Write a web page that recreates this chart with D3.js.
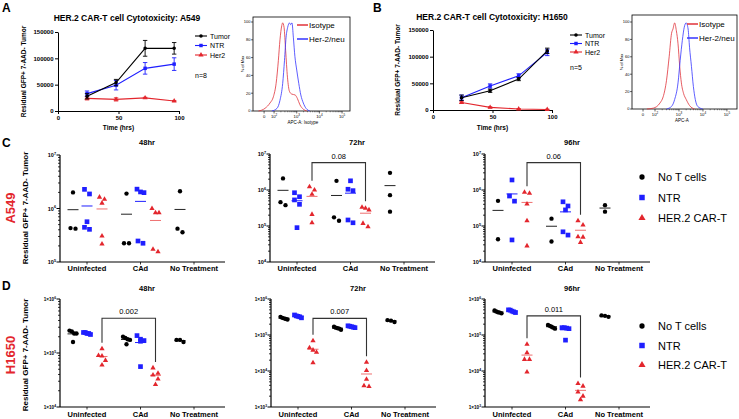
<!DOCTYPE html>
<html><head><meta charset="utf-8">
<script src="https://cdn.jsdelivr.net/npm/d3@7"></script>
<style>body{margin:0;background:#fff}svg{display:block}text{font-family:"Liberation Sans",Arial,sans-serif}</style>
</head><body><svg id="c" width="739" height="419"></svg>
<script>
// ---------------- DATA ----------------
const timeHours=[24,48,72,96];
const lineSeriesNames=["Tumor","NTR","Her2"];
const a549Tumor=[28000,54000,119000,119000];
const a549TumorErr=[5000,6000,15000,11000];
const a549NTR=[33000,49000,81000,89000];
const a549NTRErr=[5000,9000,11000,12000];
const a549Her2=[24000,22000,25000,19000];
const a549Her2Err=[3000,3000,1000,1000];
const h1650Tumor=[23000,36000,58000,111000];
const h1650TumorErr=[5000,3000,3000,5000];
const h1650NTR=[23000,45000,64000,108000];
const h1650NTRErr=[5000,4000,4000,6000];
const h1650Her2=[14000,5000,2000,1000];
const h1650Her2Err=[1500,1000,500,500];
const lineTicksY=[0,50000,100000,150000];
const lineTicksX=[0,50,100];

// flow histograms: t = display position in log10 units, p = % of max
const histA_isoT=[1.31,1.60,1.82,1.97,2.09,2.19,2.26,2.34,2.38,2.44,2.51,2.59,2.68,2.78,2.93,3.03,3.14,3.29,3.44];
const histA_isoP=[0,3,9,16,31,57,80,96,99,94,68,38,22,19,18,14,7,2,0];
const histA_herT=[1.90,2.13,2.26,2.38,2.46,2.53,2.60,2.68,2.73,2.79,2.85,2.92,3.00,3.09,3.18,3.29,3.41,3.58];
const histA_herP=[0,3,12,31,57,83,94,99,97,99,83,61,46,31,18,9,3,0];
const histB_isoT=[1.66,1.93,2.21,2.34,2.48,2.59,2.69,2.75,2.82,2.89,2.96,3.03,3.10,3.19,3.30,3.44,3.65];
const histB_isoP=[0,1,7,14,33,60,87,92,99,90,75,49,30,18,11,4,0];
const histB_herT=[2.48,2.69,2.82,2.96,3.05,3.14,3.22,3.30,3.38,3.44,3.52,3.60,3.68,3.78,3.99];
const histB_herP=[0,3,11,30,56,79,94,99,92,71,49,26,11,3,0];
const histTicksA=[1.56,2,3,4,5];
const histTicksB=[1.5,2,3,4,5];
const histTickExp=["0","2","3","4","5"];
const histTicksY=[0,20,40,60,80,100];

// dot plots: each array = [Uninfected, CAd, No Treatment]
const categories=["Uninfected","CAd","No Treatment"];
const groupNames=["No T cells","NTR","HER.2 CAR-T"];
const c48NoT=[[2.0e6,4.2e5,4.3e5],[1.9e6,2.24e5,2.24e5],[2.1e6,3.6e5,4.2e5]];
const c48NTR=[[1.87e6,2.28e6,5.66e5,4.08e5,4.45e5],[2.04e6,1.98e6,2.3e6,2.24e5,2.47e5]];
const c48CAR=[[1.26e6,1.63e6,1.49e6,3.06e5,2.17e5],[8.3e5,8.3e5,1.0e6,1.56e5,1.73e5]];
const c72NoT=[[2.1e6,3.8e5,4.6e5],[1.8e6,1.4e5,1.74e5],[3.0e6,7.2e5,2.5e5]];
const c72NTR=[[6.5e5,5.3e5,8.4e5,4.0e5,9e4],[1.8e6,1.05e6,9.6e5,1.23e5,1.47e5]];
const c72CAR=[[7.6e5,1.23e6,1.0e6,2.1e5,1.23e5],[3.1e5,3.3e5,2.8e5,9.5e4,1.18e5]];
const c96NoT=[[5.0e5,4.3e4],[1.6e5,3.7e4],[3.8e5,2.5e5]];
const c96NTR=[[1.9e6,6.8e5,4.9e5,4.1e4],[4.7e5,3.6e5,2.8e5,5.6e4,6.9e4]];
const c96CAR=[[8.7e5,8.1e5,4.1e5,1.4e5,2.8e4],[1.4e5,1.07e5,5e4,4.9e4,3.5e4]];
const d48NoT=[[2.6e5,2.3e5,2.5e5,2.3e5,1.6e5],[1.45e5,1.8e5,2.0e5,1.9e5,1.75e5],[1.75e5,1.6e5,1.75e5]];
const d48NTR=[[2.4e5,2.3e5,2.3e5,2.4e5,2.2e5],[2.1e5,1.8e5,1.65e5,1.7e5,5.6e4]];
const d48CAR=[[1.2e5,9.0e4,8.8e4,7.3e4,6.0e4],[5.3e4,4.2e4,3.9e4,3.3e4,2.6e4]];
const d72NoT=[[3.2e5,2.9e5,2.7e5,3.0e5,2.8e5],[1.7e5,1.5e5,1.4e5,1.6e5,1.55e5],[2.6e5,2.3e5,2.5e5]];
const d72NTR=[[3.6e5,3.3e5,3.0e5,3.4e5,3.2e5],[1.8e5,1.65e5,1.6e5,1.75e5,1.7e5]];
const d72CAR=[[6.9e4,4.4e4,3.8e4,3.3e4,1.7e4],[1.75e4,1.03e4,5.9e3,3.7e3,3.9e3]];
const d96NoT=[[4.8e5,4.3e5,4.0e5,4.5e5,4.2e5],[1.9e5,1.7e5,1.6e5,1.8e5,1.5e5],[3.5e5,3.2e5,3.4e5]];
const d96NTR=[[5.0e5,4.6e5,4.4e5,4.9e5,4.2e5],[1.6e5,1.55e5,1.5e5,1.6e5,7.2e4]];
const d96CAR=[[5.5e4,3.2e4,2.1e4,2.1e4,9.4e3],[4.5e3,3.8e3,2.6e3,1.6e3,2.0e3]];
const pValues=["0.08","0.06","0.002","0.007","0.011"];
const pBracketLevels=[5.75e6,5.75e6,4.4e5,2.9e5,3.4e5];

// ---------------- DRAW ----------------
const RED="#e3262d",BLUE="#1f1fff",BLACK="#000",MEANRED="#ef6f6f";
const svg=d3.select("#c");
const FONT='"Liberation Sans",Arial,sans-serif';
function sym(type,size){return d3.symbol().type(type).size(size)();}
const SHAPES={circle:d3.symbolCircle,square:d3.symbolSquare,triangle:d3.symbolTriangle};

function styleAxis(a,fs){
  a.select(".domain").attr("stroke","#000").attr("stroke-width",1);
  a.selectAll(".tick line").attr("stroke","#000");
  a.selectAll(".tick text").attr("font-size",fs).attr("font-weight","bold").attr("font-family",FONT).attr("fill","#000");
}

function lineChart(o){
  const g=svg.append("g");
  const x=d3.scaleLinear().domain([0,100]).range([o.left,o.right]);
  const y=d3.scaleLinear().domain([0,150000]).range([o.bottom,o.top]);
  const ay=g.append("g").attr("transform",`translate(${o.left},0)`)
    .call(d3.axisLeft(y).tickValues(lineTicksY).tickSize(3).tickPadding(1.5).tickFormat(d3.format("d")).tickSizeOuter(0));
  styleAxis(ay,6);
  const ax=g.append("g").attr("transform",`translate(0,${o.bottom})`)
    .call(d3.axisBottom(x).tickValues(lineTicksX).tickSize(3).tickPadding(1.5).tickSizeOuter(0));
  styleAxis(ax,6);
  const line=d3.line().x(d=>x(d.t)).y(d=>y(d.v));
  o.series.slice().reverse().forEach(s=>{
    const pts=timeHours.map((t,i)=>({t,v:s.vals[i],e:s.errs[i]}));
    g.append("path").attr("d",line(pts)).attr("fill","none").attr("stroke",s.color).attr("stroke-width",1.1);
    pts.forEach(p=>{
      const cx=x(p.t),y1=y(p.v+p.e),y2=y(p.v-p.e);
      g.append("path").attr("d",`M${cx},${y1}V${y2}M${cx-2.2},${y1}H${cx+2.2}M${cx-2.2},${y2}H${cx+2.2}`)
        .attr("stroke",s.color).attr("stroke-width",0.9).attr("fill","none");
      g.append("path").attr("d",sym(SHAPES[s.shape],s.shape==="circle"?10:s.shape==="square"?12:11))
        .attr("transform",`translate(${cx},${y(p.v)})`).attr("fill",s.color);
    });
  });
  g.append("text").attr("x",o.titleX).attr("y",o.titleY).attr("text-anchor","middle").attr("font-size",8.5).attr("font-weight","bold").text(o.title);
  g.append("text").attr("transform",`translate(${o.ylabX},${(o.top+o.bottom)/2}) rotate(-90)`).attr("text-anchor","middle").attr("font-size",6.5).attr("font-weight","bold").text("Residual GFP+ 7-AAD- Tumor");
  g.append("text").attr("x",(o.left+o.right)/2).attr("y",129.5).attr("text-anchor","middle").attr("font-size",6.5).attr("font-weight","bold").text("Time (hrs)");
  o.series.forEach((s,i)=>{
    const ly=o.legY+i*o.legDy;
    g.append("line").attr("x1",o.legX).attr("x2",o.legX+12).attr("y1",ly).attr("y2",ly).attr("stroke",s.color).attr("stroke-width",1.1);
    g.append("path").attr("d",sym(SHAPES[s.shape],s.shape==="circle"?10:12)).attr("transform",`translate(${o.legX+6},${ly})`).attr("fill",s.color);
    g.append("text").attr("x",o.legX+15).attr("y",ly+2.5).attr("font-size",7).text(lineSeriesNames[i]);
  });
  g.append("text").attr("x",o.legX).attr("y",o.nY).attr("font-size",7).text(o.nText);
  g.append("text").attr("x",o.letterX).attr("y",12).attr("font-size",12).attr("font-weight","bold").text(o.letter);
}

function histogram(o){
  const g=svg.append("g");
  const x=d3.scaleLinear().domain(o.tDomain).range([o.left,o.right]);
  const y=d3.scaleLinear().domain([0,100]).range([o.bottom,o.zeroTop]);
  g.append("rect").attr("x",o.left).attr("y",o.top).attr("width",o.right-o.left).attr("height",o.bottom-o.top).attr("fill","none").attr("stroke","#000").attr("stroke-width",0.8);
  histTicksY.forEach(v=>{
    g.append("line").attr("x1",o.left-2).attr("x2",o.left).attr("y1",y(v)).attr("y2",y(v)).attr("stroke","#000").attr("stroke-width",0.6);
    g.append("text").attr("x",o.left-2.5).attr("y",y(v)+1.4).attr("text-anchor","end").attr("font-size",4).text(v);
  });
  o.ticks.forEach((t,i)=>{
    g.append("line").attr("x1",x(t)).attr("x2",x(t)).attr("y1",o.bottom).attr("y2",o.bottom+2.5).attr("stroke","#000").attr("stroke-width",0.6);
    const tx=g.append("text").attr("x",x(t)).attr("y",o.bottom+7).attr("text-anchor","middle").attr("font-size",4.2);
    if(histTickExp[i]==="0") tx.text("0"); else {tx.append("tspan").text("10");tx.append("tspan").attr("dy",-1.6).attr("font-size",3).text(histTickExp[i]);}
  });
  for(let e=2;e<5;e++) for(let k=2;k<10;k++){const t=e+Math.log10(k);
    g.append("line").attr("x1",x(t)).attr("x2",x(t)).attr("y1",o.bottom).attr("y2",o.bottom+1.3).attr("stroke","#000").attr("stroke-width",0.4);}
  const ln=d3.line().x(d=>x(d[0])).y(d=>y(d[1])).curve(d3.curveMonotoneX);
  g.append("path").attr("d",ln(o.isoT.map((t,i)=>[t,o.isoP[i]]))).attr("fill","none").attr("stroke","#e0323a").attr("stroke-width",0.8);
  g.append("path").attr("d",ln(o.herT.map((t,i)=>[t,o.herP[i]]))).attr("fill","none").attr("stroke","#3535ff").attr("stroke-width",0.8);
  g.append("text").attr("transform",`translate(${o.left-9},${(o.top+o.bottom)/2}) rotate(-90)`).attr("text-anchor","middle").attr("font-size",4).text("% of Max");
  g.append("text").attr("x",o.xlabX).attr("y",o.bottom+13).attr("text-anchor","middle").attr("font-size",4.5).text(o.xlab);
  [["Isotype","#e0323a",o.legY],["Her-2/neu","#3535ff",o.legY+14]].forEach(([n,c,ly])=>{
    g.append("line").attr("x1",o.legX).attr("x2",o.legX+11).attr("y1",ly).attr("y2",ly).attr("stroke",c).attr("stroke-width",1.5);
    g.append("text").attr("x",o.legX+12).attr("y",ly+3).attr("font-size",8).text(n);
  });
}

function supLabel(sel,x,y,pre,e,fs,sfs){
  const t=sel.append("text").attr("x",x).attr("y",y).attr("text-anchor","end").attr("font-size",fs).attr("font-weight","bold");
  t.append("tspan").text(pre);
  t.append("tspan").attr("dy",-fs*0.45).attr("font-size",sfs).text(e);
}

function dotPanel(o){
  const g=svg.append("g");
  const y=d3.scaleLog().domain(o.domain).range([o.bottom,o.top]);
  const x=d3.scalePoint().domain(categories).range([o.ax+27,o.ax+134]);
  g.append("line").attr("x1",o.ax).attr("x2",o.ax).attr("y1",o.top).attr("y2",o.bottom).attr("stroke","#000").attr("stroke-width",1.2);
  g.append("line").attr("x1",o.ax).attr("x2",o.ax+165).attr("y1",o.bottom).attr("y2",o.bottom).attr("stroke","#000").attr("stroke-width",1.2);
  const lo=Math.round(Math.log10(o.domain[0])),hi=Math.round(Math.log10(o.domain[1]));
  for(let e=lo;e<=hi;e++){
    const yy=y(Math.pow(10,e));
    g.append("line").attr("x1",o.ax-3.5).attr("x2",o.ax).attr("y1",yy).attr("y2",yy).attr("stroke","#000").attr("stroke-width",1);
    if(o.times) supLabel(g,o.ax-4,yy+1.8,"1×10",e,4.6,3.3); else supLabel(g,o.ax-4,yy+2,"10",e,5.5,3.8);
    if(e<hi) for(let k=2;k<10;k++){const v=k*Math.pow(10,e);
      g.append("line").attr("x1",o.ax-2).attr("x2",o.ax).attr("y1",y(v)).attr("y2",y(v)).attr("stroke","#000").attr("stroke-width",0.8);}
  }
  categories.forEach(c=>{
    g.append("line").attr("x1",x(c)).attr("x2",x(c)).attr("y1",o.bottom).attr("y2",o.bottom+2.5).attr("stroke","#000").attr("stroke-width",0.8);
    g.append("text").attr("x",x(c)).attr("y",o.labY).attr("text-anchor","middle").attr("font-size",7.5).attr("font-weight","bold").text(c);
  });
  g.append("text").attr("x",o.ax+87).attr("y",o.titleY).attr("text-anchor","middle").attr("font-size",7.5).attr("font-weight","bold").text(o.title);
  const groups=[{d:o.noT,c:BLACK,m:"#222",s:"circle",sz:15,off:-14},{d:o.ntr,c:BLUE,m:BLUE,s:"square",sz:22,off:0},{d:o.car,c:RED,m:MEANRED,s:"triangle",sz:12,off:15}];
  groups.forEach(gr=>{
    gr.d.forEach((vals,ci)=>{
      const cx=x(categories[ci])+gr.off;
      const mean=d3.mean(vals);
      g.append("line").attr("x1",cx-5.5).attr("x2",cx+5.5).attr("y1",y(mean)).attr("y2",y(mean)).attr("stroke",gr.m).attr("stroke-width",1);
      const pts=vals.map(v=>({v,py:y(v)})).sort((a,b)=>a.py-b.py);
      const rows=[];
      pts.forEach(p=>{const r=rows[rows.length-1]; if(r&&p.py-r[0].py<5.5) r.push(p); else rows.push([p]);});
      rows.forEach(r=>{const k=r.length,sp=k>2?Math.min(3.5,7/(k-1)):5; r.forEach((p,i)=>p.px=cx+(i-(k-1)/2)*sp);});
      pts.forEach(p=>g.append("path").attr("d",sym(SHAPES[gr.s],gr.sz)).attr("transform",`translate(${p.px},${p.py})`).attr("fill",gr.c));
    });
  });
  if(o.p){
    const xl=x("Uninfected")+15,xr=x("CAd")+15,yt=y(o.pLevel);
    const yl=y(d3.max(o.car[0]))-6,yr=y(d3.max(o.car[1]))-6;
    g.append("path").attr("d",`M${xl},${yl}V${yt}H${xr}V${yr}`).attr("fill","none").attr("stroke","#333").attr("stroke-width",1.1);
    g.append("text").attr("x",(xl+xr)/2).attr("y",yt-4).attr("text-anchor","middle").attr("font-size",7.5).text(o.p);
  }
}

function rowDecor(o){
  svg.append("text").attr("x",2).attr("y",o.letterY).attr("font-size",12).attr("font-weight","bold").text(o.letter);
  svg.append("text").attr("transform",`translate(15,${o.cy}) rotate(-90)`).attr("text-anchor","middle").attr("font-size",13).attr("font-weight","bold").attr("fill",RED).text(o.cell);
  svg.append("text").attr("transform",`translate(28,${o.cy}) rotate(-90)`).attr("text-anchor","middle").attr("font-size",8).attr("font-weight","bold").text("Residual GFP+ 7-AAD- Tumor");
  const shapes=[["circle",BLACK,22],["square",BLUE,30],["triangle",RED,22]];
  shapes.forEach(([s,c,sz],i)=>{
    const ly=o.legY+i*o.legDy;
    svg.append("path").attr("d",sym(SHAPES[s],sz)).attr("transform",`translate(642,${ly})`).attr("fill",c);
    svg.append("text").attr("x",658).attr("y",ly+4).attr("font-size",11).text(groupNames[i]);
  });
}

// Row 1
lineChart({left:58,right:179,bottom:111,top:32,title:"HER.2 CAR-T cell Cytotoxicity: A549",titleX:127,titleY:21,ylabX:25.5,
  series:[{vals:a549Tumor,errs:a549TumorErr,color:BLACK,shape:"circle"},{vals:a549NTR,errs:a549NTRErr,color:BLUE,shape:"square"},{vals:a549Her2,errs:a549Her2Err,color:RED,shape:"triangle"}],
  legX:195,legY:36,legDy:9.5,nY:78,nText:"n=8",letter:"A",letterX:2});
lineChart({left:433,right:552,bottom:110,top:30,title:"HER.2 CAR-T cell Cytotoxicity: H1650",titleX:492,titleY:19.5,ylabX:399.5,
  series:[{vals:h1650Tumor,errs:h1650TumorErr,color:BLACK,shape:"circle"},{vals:h1650NTR,errs:h1650NTRErr,color:BLUE,shape:"square"},{vals:h1650Her2,errs:h1650Her2Err,color:RED,shape:"triangle"}],
  legX:570,legY:35,legDy:8.5,nY:69.5,nText:"n=5",letter:"B",letterX:373});
histogram({left:253,right:350,top:17,bottom:111,zeroTop:22,tDomain:[1.07,5.35],ticks:histTicksA,isoT:histA_isoT,isoP:histA_isoP,herT:histA_herT,herP:histA_herP,xlab:"APC-A: Isotype",xlabX:303,legX:297,legY:25});
histogram({left:632,right:737,top:15,bottom:109,zeroTop:22,tDomain:[1.04,5.42],ticks:histTicksB,isoT:histB_isoT,isoP:histB_isoP,herT:histB_herT,herP:histB_herP,xlab:"APC-A",xlabX:682,legX:687,legY:24});

// Row C
rowDecor({letter:"C",letterY:147,cell:"A549",cy:208,legY:177,legDy:20.5});
dotPanel({ax:60,top:155,bottom:262,domain:[1e5,1e7],noT:c48NoT,ntr:c48NTR,car:c48CAR,title:"48hr",titleY:145,labY:271});
dotPanel({ax:270,top:154,bottom:262,domain:[1e4,1e7],noT:c72NoT,ntr:c72NTR,car:c72CAR,title:"72hr",titleY:145,labY:271,p:pValues[0],pLevel:pBracketLevels[0]});
dotPanel({ax:485,top:154,bottom:262,domain:[1e4,1e7],noT:c96NoT,ntr:c96NTR,car:c96CAR,title:"96hr",titleY:145,labY:271,p:pValues[1],pLevel:pBracketLevels[1]});
// Row D
rowDecor({letter:"D",letterY:290,cell:"H1650",cy:355,legY:326,legDy:19.5});
dotPanel({ax:60,top:299,bottom:407,domain:[1e4,1e6],times:true,noT:d48NoT,ntr:d48NTR,car:d48CAR,title:"48hr",titleY:291,labY:417,p:pValues[2],pLevel:pBracketLevels[2]});
dotPanel({ax:271,top:299,bottom:407,domain:[1e3,1e6],times:true,noT:d72NoT,ntr:d72NTR,car:d72CAR,title:"72hr",titleY:291,labY:417,p:pValues[3],pLevel:pBracketLevels[3]});
dotPanel({ax:485,top:299,bottom:407,domain:[1e3,1e6],times:true,noT:d96NoT,ntr:d96NTR,car:d96CAR,title:"96hr",titleY:291,labY:417,p:pValues[4],pLevel:pBracketLevels[4]});
</script></body></html>
